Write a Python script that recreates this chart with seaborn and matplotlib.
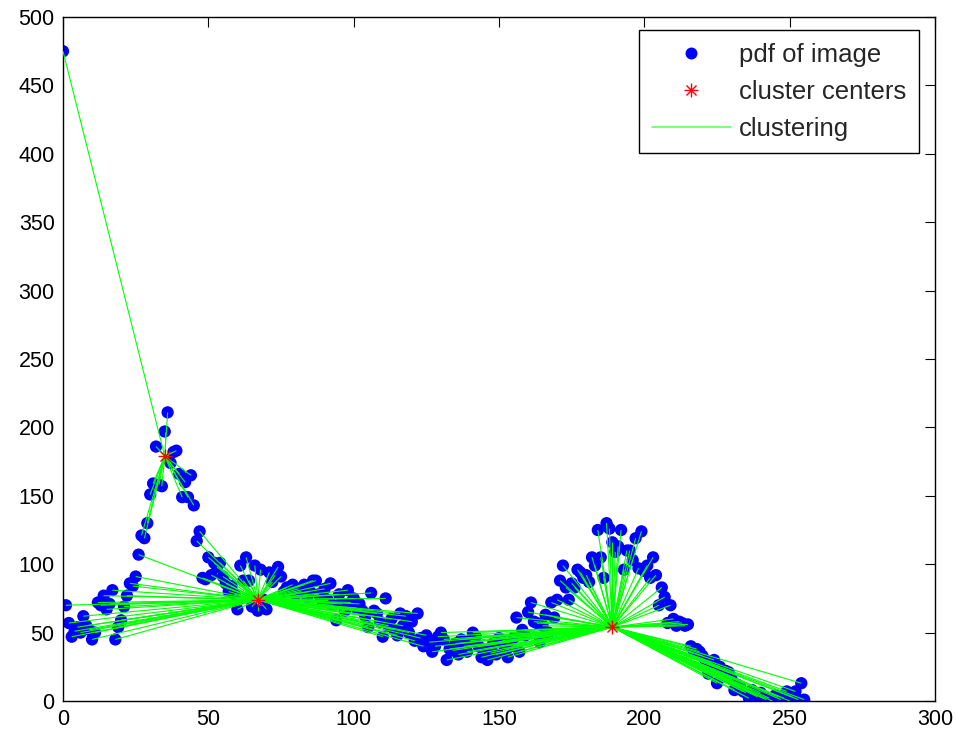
import numpy as np
import pandas as pd
import matplotlib
matplotlib.use("Agg")
import matplotlib.pyplot as plt
import seaborn as sns
from matplotlib.collections import LineCollection
from matplotlib.lines import Line2D
from matplotlib.path import Path

# Histogram (pdf) of the image, one value per gray level 0..255
pdf_values = [
    475,
    # 1-26
    70, 57, 47, 51, 54, 50, 62, 55, 52, 45, 50, 72, 70, 77, 67, 71, 81, 45, 54, 59,
    69, 77, 86, 84, 91, 107,
    # 27-45
    121, 119, 130, 151, 159, 186, 158, 157, 197, 211, 174, 182, 183, 166, 149, 160,
    149, 165, 143,
    # 46-125
    117, 124, 90, 89, 105, 92, 101, 98, 101, 91,
    86, 80, 84, 78, 67, 99, 88, 105, 88, 69,
    99, 66, 96, 74, 67, 94, 87, 92, 98, 91,
    80, 83, 82, 85, 78, 82, 80, 85, 76, 80,
    88, 88, 78, 74, 82, 74, 86, 70, 59, 78,
    71, 66, 81, 72, 75, 68, 71, 66, 62, 54,
    79, 66, 64, 58, 47, 75, 55, 60, 52, 48,
    64, 55, 62, 50, 58, 44, 64, 46, 40, 48,
    # 126-170
    43, 36, 40, 47, 50, 45, 30, 38, 37, 42,
    34, 45, 40, 36, 44, 50, 47, 40, 32, 38,
    30, 35, 42, 34, 46, 44, 38, 32, 40, 46,
    61, 36, 52, 48, 65, 72, 58, 57, 43, 55,
    63, 50, 72, 61, 74,
    # 171-215
    88, 99, 83, 74, 86, 83, 96, 94, 90, 92,
    87, 105, 99, 125, 105, 90, 130, 126, 116, 109,
    113, 125, 96, 110, 110, 103, 119, 97, 124, 95,
    99, 90, 105, 92, 70, 83, 76, 57, 70, 60,
    55, 58, 57, 55, 56,
    # 216-255
    40, 35, 38, 36, 33, 30, 20, 28, 30, 13,
    25, 18, 22, 21, 16, 8, 12, 10, 7, 6,
    2, 8, 5, 3, 6, 2, 1, 2, 0, 4,
    3, 1, 2, 7, 0, 3, 7, 1, 13, 1,
]

# Cluster membership: runs of gray levels starting at seg_start belong to seg_cluster
seg_start = [0, 1, 27, 46, 126]
seg_cluster = [0, 1, 0, 1, 2]

# Cluster centers (gray level, pdf value)
center_x = [35, 67, 189]
center_y = [179, 74, 54]

gray = np.arange(len(pdf_values))
labels = np.zeros(len(pdf_values), dtype=int)
for s, c in zip(seg_start, seg_cluster):
    labels[s:] = c

df = pd.DataFrame({"gray": gray, "pdf": pdf_values, "cluster": labels})

sns.set_theme(style="white")
plt.rcParams["font.family"] = ["Liberation Sans", "DejaVu Sans"]

fig = plt.figure(figsize=(9.57, 7.40), dpi=100)
ax = fig.add_axes([63 / 957, 39 / 740, 872 / 957, 684 / 740])

blue = "#0000ff"
green = "#00ff00"
red = "#ff0000"

sns.scatterplot(data=df, x="gray", y="pdf", color=blue, s=78, linewidth=0,
                edgecolor="none", ax=ax, zorder=2, legend=False)

# Lines joining every point to the center of its cluster
cx = np.array(center_x, dtype=float)
cy = np.array(center_y, dtype=float)
segs = [[(x, y), (cx[k], cy[k])] for x, y, k in zip(df["gray"], df["pdf"], df["cluster"])]
ax.add_collection(LineCollection(segs, colors=green, linewidths=0.8, zorder=3))

# Asterisk marker (+ and x overlaid)
d = 0.72
star = Path([(0, -1), (0, 1), (-1, 0), (1, 0), (-d, -d), (d, d), (-d, d), (d, -d)],
            [Path.MOVETO, Path.LINETO] * 4)
ax.plot(center_x, center_y, ls="none", marker=star, ms=10, mec=red, mfc="none",
        mew=1.0, zorder=4)

ax.set_xlim(0, 300)
ax.set_ylim(0, 500)
ax.set_xticks(np.arange(0, 301, 50))
ax.set_yticks(np.arange(0, 501, 50))
ax.set_xlabel("")
ax.set_ylabel("")
ax.tick_params(direction="in", top=True, right=True, length=7, width=0.8,
               labelsize=15.5, colors="black", pad=6)
for sp in ax.spines.values():
    sp.set_visible(True)
    sp.set_color("black")
    sp.set_linewidth(1.0)

handles = [
    Line2D([], [], ls="none", marker="o", color=blue, mec="none", ms=8.6),
    Line2D([], [], ls="none", marker=star, mec=red, mfc="none", ms=10, mew=1.0),
    Line2D([], [], color="#66ff66", lw=1.2),
]
leg = ax.legend(handles, ["pdf of image", "cluster centers", "clustering"],
                loc="upper right", bbox_to_anchor=((919 - 63) / 872, (701 - 30) / 684),
                fontsize=18.5, frameon=True, fancybox=False, framealpha=1,
                edgecolor="black", handlelength=3.1, handletextpad=0.3,
                labelspacing=0.5, borderpad=0.5, borderaxespad=0)
leg.get_frame().set_linewidth(1.0)

fig.savefig("out.png", dpi=100)
